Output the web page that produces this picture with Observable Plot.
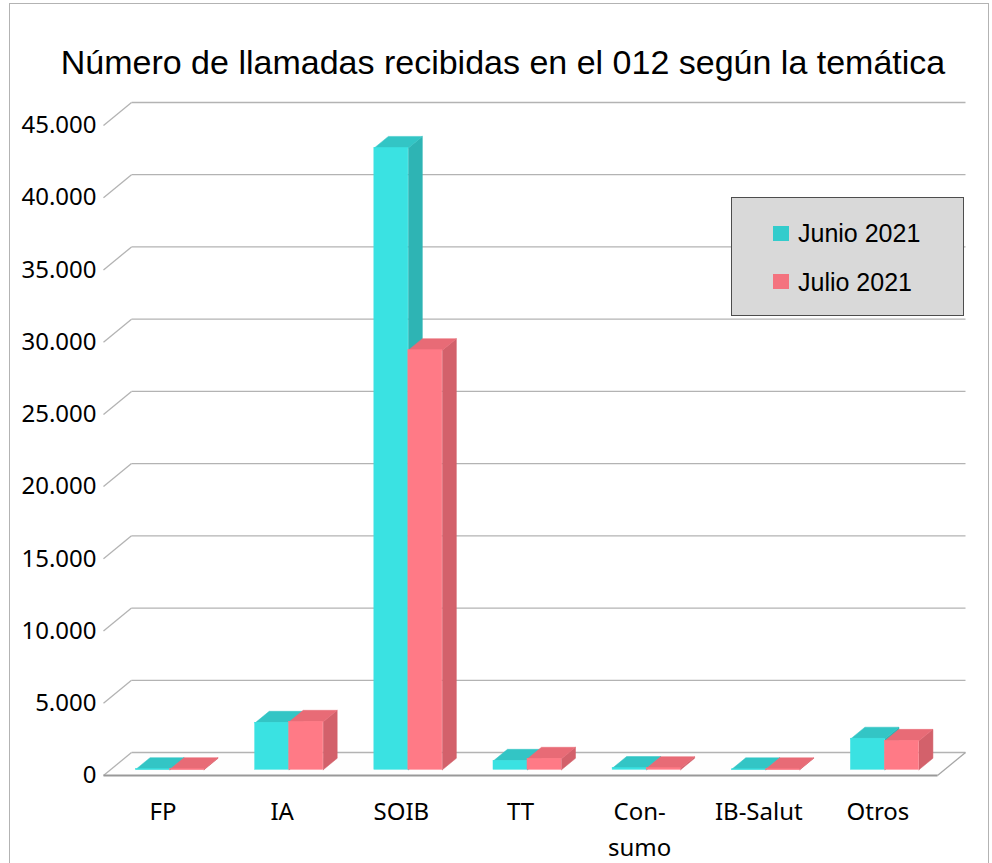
<!DOCTYPE html>
<html>
<head>
<meta charset="utf-8">
<script src="https://cdn.jsdelivr.net/npm/d3@7"></script>
<script src="https://cdn.jsdelivr.net/npm/@observablehq/plot@0.6"></script>
<style>
  body { margin: 0; background: #fff; }
  #wrap { position: relative; width: 992px; height: 863px; overflow: hidden; background: #fff; }
  #border { position: absolute; left: 9px; top: 3px; width: 980px; height: 900px; border: 1px solid #b3b3b3; box-sizing: border-box; }
  #chart { position: absolute; left: 0; top: 0; }
  #title { position: absolute; left: 9px; width: 988px; top: 45px; text-align: center;
           font-family: "Liberation Sans", Arial, sans-serif; font-size: 34px; line-height: 34px; color: #000; white-space: nowrap; }
  #legend { position: absolute; left: 731px; top: 197px; width: 233px; height: 119px; box-sizing: border-box;
            background: #d9d9d9; border: 1px solid #4d4d4d; }
  .sw { position: absolute; width: 16px; height: 15px; }
  .lt { position: absolute; font-family: "Liberation Sans", Arial, sans-serif; font-size: 25px; line-height: 25px; color: #000; white-space: nowrap; }
</style>
</head>
<body>
<div id="wrap">
  <div id="border"></div>
  <div id="chart"></div>
  <div id="title"></div>
  <div id="legend"></div>
</div>
<script>
// ---- data ----
const categories = ["FP", "IA", "SOIB", "TT", "Con-\nsumo", "IB-Salut", "Otros"];
const seriesNames = ["Junio 2021", "Julio 2021"];
const junio = [40, 3250, 43050, 620, 120, 30, 2150];
const julio = [40, 3320, 29050, 760, 110, 30, 2000];
const yTicks = [0, 5000, 10000, 15000, 20000, 25000, 30000, 35000, 40000, 45000];
const titleText = "Número de llamadas recibidas en el 012 según la temática";

// ---- styling / geometry constants ----
const colors = {
  "Junio 2021": {front: "#3ae2e2", top: "#33c5c5", side: "#2eb4b4", swatch: "#33cccc"},
  "Julio 2021": {front: "#ff7a86", top: "#e86b76", side: "#d3616b", swatch: "#f4737f"}
};
const N = categories.length;
const DX = 0.235;      // depth offset along x (category units)
const DY = 1592;       // depth offset along y (value units)
const XMAX = N + DX;
const BW = 0.2854;     // bar width (category units)
const FRONT = 0.25, BDEPTH = 0.5; // bar depth placement (fraction of floor depth)

const fmt = d3.formatLocale({decimal: ",", thousands: ".", grouping: [3], currency: ["", "€"]}).format(",d");

// bars
const bars = [];
categories.forEach((c, i) => {
  [junio, julio].forEach((vals, s) => {
    const x1 = i + 0.5 + FRONT * DX + (s === 0 ? -BW : 0);
    const yb = FRONT * DY;
    bars.push({series: seriesNames[s], i, x1, x2: x1 + BW, yb, yt: yb + vals[i], value: vals[i]});
  });
});

const hx = BDEPTH * DX, hy = BDEPTH * DY;
function sidePoly(b, k) {
  return [
    {x: b.x2, y: b.yb}, {x: b.x2, y: b.yt}, {x: b.x2 + hx, y: b.yt + hy}, {x: b.x2 + hx, y: b.yb + hy}, {x: b.x2, y: b.yb}
  ].map(p => ({...p, k}));
}
function topPoly(b, k) {
  return [
    {x: b.x1, y: b.yt}, {x: b.x2, y: b.yt}, {x: b.x2 + hx, y: b.yt + hy}, {x: b.x1 + hx, y: b.yt + hy}, {x: b.x1, y: b.yt}
  ].map(p => ({...p, k}));
}

const floor = [{x: 0, y: 0}, {x: N, y: 0}, {x: XMAX, y: DY}, {x: DX, y: DY}, {x: 0, y: 0}];

const barMarks = [];
seriesNames.forEach(name => {
  const bs = bars.filter(b => b.series === name);
  const col = colors[name];
  barMarks.push(Plot.line(bs.flatMap((b, k) => sidePoly(b, k)), {x: "x", y: "y", z: "k", fill: col.side, stroke: col.side, strokeWidth: 0.5}));
  barMarks.push(Plot.line(bs.flatMap((b, k) => topPoly(b, k)), {x: "x", y: "y", z: "k", fill: col.top, stroke: col.top, strokeWidth: 0.5}));
  barMarks.push(Plot.rect(bs, {x1: "x1", x2: "x2", y1: "yb", y2: "yt", fill: col.front, stroke: col.front, strokeWidth: 0.5}));
});

const chart = Plot.plot({
  width: 992,
  height: 863,
  marginLeft: 103,
  marginRight: 27,
  marginTop: 102,
  marginBottom: 88,
  style: {fontFamily: "'Noto Sans', sans-serif", fontSize: "24px", color: "#000", background: "transparent", overflow: "visible"},
  x: {type: "linear", domain: [0, XMAX], axis: null},
  y: {type: "linear", domain: [0, 45000 + DY], axis: null},
  marks: [
    Plot.line(floor, {x: "x", y: "y", fill: "#fefefe", stroke: "none"}),
    Plot.link(yTicks, {x1: () => 0, y1: d => d, x2: () => DX, y2: d => d + DY, stroke: "#b3b3b3", strokeWidth: 1.3}),
    Plot.link(yTicks, {x1: () => DX, y1: d => d + DY, x2: () => XMAX, y2: d => d + DY, stroke: "#b3b3b3", strokeWidth: 1.3}),
    Plot.link([0], {x1: () => N, y1: () => 0, x2: () => XMAX, y2: () => DY, stroke: "#a6a6a6", strokeWidth: 1.3}),
    Plot.link([0], {x1: () => 0, y1: () => 0, x2: () => N, y2: () => 0, stroke: "#999999", strokeWidth: 1.8}),
    ...barMarks,
    Plot.axisY({ticks: yTicks, tickSize: 0, tickPadding: 7, tickFormat: fmt, label: null, fontSize: 24, fill: "#000"}),
    Plot.text(categories, {x: (d, i) => i + 0.5, y: () => 0, text: d => d, lineAnchor: "top", dy: 19, lineHeight: 1.5, fontSize: 24, fill: "#000"})
  ]
});
document.getElementById("chart").appendChild(chart);

document.getElementById("title").textContent = titleText;

const legend = document.getElementById("legend");
seriesNames.forEach((name, k) => {
  const sw = document.createElement("div");
  sw.className = "sw";
  sw.style.left = (772 - 731) + "px";
  sw.style.top = (225 + 48 * k - 197) + "px";
  sw.style.background = colors[name].swatch;
  legend.appendChild(sw);
  const t = document.createElement("div");
  t.className = "lt";
  t.style.left = (797 - 731) + "px";
  t.style.top = (220 + 49 * k - 197) + "px";
  t.textContent = name;
  legend.appendChild(t);
});
</script>
</body>
</html>
